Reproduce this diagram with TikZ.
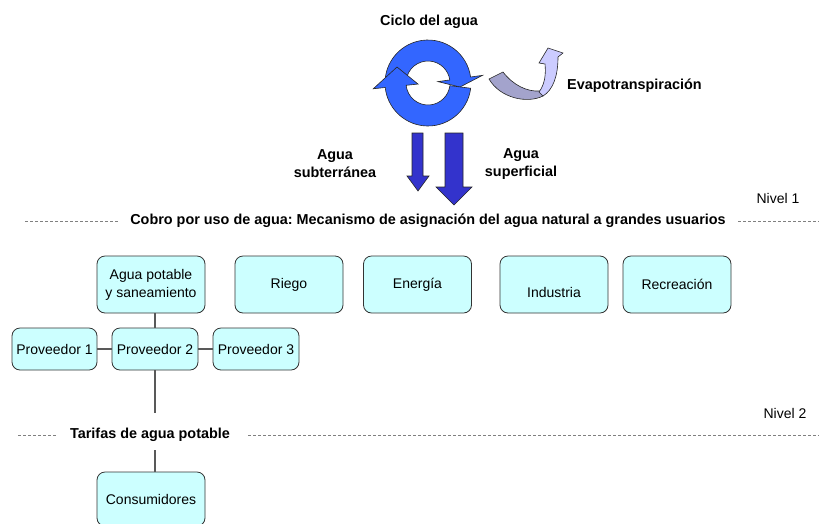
\documentclass[tikz,border=0pt]{standalone}
\usepackage{fontspec}
\setmainfont{Liberation Sans}
\frenchspacing
\definecolor{boxfill}{HTML}{CCFFFF}
\definecolor{cycleblue}{HTML}{3366FF}
\definecolor{flowblue}{HTML}{3333CC}
\definecolor{evapdark}{HTML}{A3A3CC}
\definecolor{evaplight}{HTML}{CCCCFF}

\begin{document}
\begin{tikzpicture}
[x=1pt,y=-1pt,%
  every node/.style={font=\fontsize{14}{18}\selectfont,inner sep=0pt},%
  usebox/.style={draw=black!80,fill=boxfill,rounded corners=8pt,line width=0.8pt,
    minimum width=108pt,minimum height=57pt,align=center},%
  provbox/.style={usebox,minimum width=86pt,minimum height=42pt},%
  title/.style={font=\bfseries\fontsize{14.4}{18}\selectfont,align=center},%
  link/.style={draw=black!65,line width=1.2pt},%
  level/.style={draw=black!50,dash pattern=on 3pt off 2pt,line width=0.8pt},%
  shapeline/.style={draw=black!85,line width=0.6pt}]
\useasboundingbox (0,0) rectangle (819,523);
\clip (0,0) rectangle (819,523);
% ciclo del agua
\node[title] (ciclo) at (429,22) {Ciclo del agua};
\begin{scope}[shift={(428,83)},y=1pt]
\filldraw[shapeline,fill=cycleblue]
  (174:22) arc[start angle=174,end angle=8,radius=22] -- (8:10) -- (32,-4)
  -- (8:55) -- (8:43) arc[start angle=8,end angle=174,radius=43] -- cycle;
\filldraw[shapeline,fill=cycleblue]
  (-7:43) arc[start angle=-7,end angle=-174,radius=43] -- (-174:55) -- (-31,16)
  -- (-174:10) -- (-174:22) arc[start angle=-174,end angle=-7,radius=22] -- cycle;
\end{scope}
% evapotranspiracion
\filldraw[shapeline,fill=evapdark]
  (489,79) -- (503,72) .. controls (513,85) and (527,92) .. (540,91)
  -- (543,96) .. controls (527,104) and (500,98) .. (489,79) -- cycle;
\filldraw[shapeline,fill=evaplight]
  (539,92) .. controls (545,84) and (546,74) .. (545,64) -- (539,63) -- (548,48)
  -- (563,53) -- (558,57) .. controls (558,76) and (553,90) .. (543,96) -- cycle;
\node[title,anchor=west] (evapo) at (567,86) {Evapotranspiración};
% flujos hacia abajo
\filldraw[shapeline,fill=flowblue]
  (412,133) -- (423,133) -- (423,176) -- (429,176) -- (418,191) -- (407,176)
  -- (412,176) -- cycle;
\filldraw[shapeline,fill=flowblue]
  (445,133) -- (463,133) -- (463,187) -- (472,187) -- (454,205) -- (436,187)
  -- (445,187) -- cycle;
\node[title] (subt) at (335,164) {Agua\\subterránea};
\node[title] (superf) at (521,164) {Agua\\superficial};
% nivel 1
\node (nivel1) at (778,198) {Nivel 1};
\node[title] (cobro) at (428,221)
  {Cobro por uso de agua: Mecanismo de asignación del agua natural a grandes usuarios};
\coordinate (l1a) at (25,221);
\coordinate (l1b) at (118,221);
\coordinate (l1c) at (738,221);
\coordinate (l1d) at (819,221);
\draw[level] (l1a) -- (l1b);
\draw[level] (l1c) -- (l1d);
% usuarios
\node[usebox] (agua) at (151,284.5) {Agua potable\\y saneamiento};
\node[usebox] (riego) at (289,284.5) {Riego};
\node[usebox] (energia) at (417.5,284.5) {Energía};
\node[usebox] (industria) at (554,284.5) {\raisebox{-8pt}[\height][\depth]{Industria}};
\node[usebox] (recreacion) at (677,284.5) {Recreación};
% proveedores
\node[provbox,minimum width=85pt] (prov1) at (54.5,349) {Proveedor 1};
\node[provbox] (prov2) at (155,349) {Proveedor 2};
\node[provbox] (prov3) at (256,349) {Proveedor 3};
\draw[link] (agua.south -| prov2.north) -- (prov2.north);
\draw[link] (prov1) -- (prov2);
\draw[link] (prov2) -- (prov3);
\coordinate (p2end) at (155,413);
\draw[link] (prov2.south) -- (p2end);
% nivel 2
\node (nivel2) at (785,413) {Nivel 2};
\node[title] (tarifas) at (150,435) {Tarifas de agua potable};
\coordinate (l2a) at (18,435);
\coordinate (l2b) at (57,435);
\coordinate (l2c) at (248,435);
\coordinate (l2d) at (819,435);
\draw[level] (l2a) -- (l2b);
\draw[level] (l2c) -- (l2d);
\node[usebox,minimum height=54pt] (consum) at (151,499) {Consumidores};
\coordinate (tstart) at (155,450);
\draw[link] (tstart) -- (tstart |- consum.north);
\end{tikzpicture}
\end{document}
